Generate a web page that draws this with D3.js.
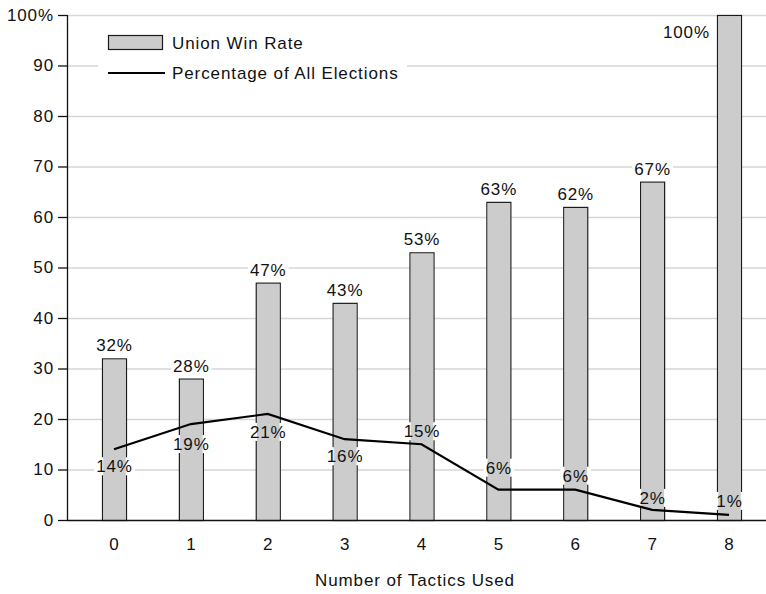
<!DOCTYPE html>
<html><head><meta charset="utf-8">
<script src="https://cdn.jsdelivr.net/npm/d3@7"></script>
<style>
html,body{margin:0;padding:0;background:#fff;}
svg{display:block;font-family:"Liberation Sans",Arial,Helvetica,sans-serif;}
svg text{letter-spacing:0.9px;}
</style></head>
<body>
<svg id="chart" width="766" height="594"></svg>
<script>
const categories = ["0","1","2","3","4","5","6","7","8"];
const winRate = [32,28,47,43,53,63,62,67,100];
const pctElections = [14,19,21,16,15,6,6,2,1];
const yTicks = [0,10,20,30,40,50,60,70,80,90,100];
const seriesNames = ["Union Win Rate","Percentage of All Elections"];
const xTitle = "Number of Tactics Used";

// layout (styling, not data)
const pctLabelDy = [17,20,18,17,-13,-22,-14,-12,-14];
const FS = 17;

const svg = d3.select("#chart");
const pLeft = 67, pRight = 766, pTop = 15, pBottom = 520;
const x = d3.scalePoint().domain(categories).range([114, 729]);
const y = d3.scaleLinear().domain([0,100]).range([pBottom, pTop]);
const barW = 24;

// gridlines
svg.append("g").selectAll("line").data(yTicks.filter(d=>d>0)).join("line")
  .attr("x1", pLeft).attr("x2", pRight)
  .attr("y1", d=>y(d)+0.5).attr("y2", d=>y(d)+0.5)
  .attr("stroke", "#d6d6d6").attr("stroke-width", 1.3);

// legend background
svg.append("rect").attr("x",98).attr("y",24).attr("width",309).attr("height",66).attr("fill","#fff");

// bar outlines
svg.append("g").selectAll("rect").data(winRate).join("rect")
  .attr("x", (d,i)=>x(categories[i]) - barW/2 + 0.5)
  .attr("y", d=>y(d)+0.5)
  .attr("width", barW)
  .attr("height", d=>pBottom - y(d))
  .attr("fill", "#cccccc").attr("stroke", "#1a1a1a").attr("stroke-width", 1.2);

function labelText(g, cx, cy, text, anchor){
  return g.append("text").attr("x", cx).attr("y", cy).attr("dy","0.35em")
    .attr("text-anchor", anchor).attr("font-size", FS).attr("fill","#111").text(text);
}

const barLabels = winRate.map((d,i)=>{
  if (i === winRate.length-1) return {x: x(categories[i]) - 19, y: y(d)+17, t: d+"%", a:"end"};
  return {x: x(categories[i]) + 0.5, y: y(d)-13, t: d+"%", a:"middle"};
});
const lineLabels = pctElections.map((d,i)=>({x: x(categories[i]) + 0.5, y: y(d)+pctLabelDy[i], t: d+"%", a:"middle"}));
const allLabels = barLabels.concat(lineLabels);

const bgG = svg.append("g");
const measureG = svg.append("g");
allLabels.forEach(l=>{
  const t = labelText(measureG, l.x, l.y, l.t, l.a);
  l.bb = t.node().getBBox();
});
measureG.remove();
bgG.selectAll("rect").data(allLabels).join("rect")
  .attr("x", d=>d.bb.x-2).attr("y", d=>d.y-9).attr("width", d=>d.bb.width+4).attr("height", 18)
  .attr("fill","#fff");

// bar interior fills (over backgrounds)
svg.append("g").selectAll("rect").data(winRate).join("rect")
  .attr("x", (d,i)=>x(categories[i]) - barW/2 + 1.2)
  .attr("y", d=>y(d)+1.2)
  .attr("width", barW - 1.4)
  .attr("height", d=>pBottom - y(d) - 1.2)
  .attr("fill", "#cccccc");

// axes
const yAxis = svg.append("g").attr("transform", `translate(${pLeft},0)`)
  .call(d3.axisLeft(y).tickValues(yTicks).tickSize(9).tickPadding(4)
    .tickFormat(d=> d===100 ? "100%" : d));
yAxis.select(".domain").attr("stroke","#111").attr("stroke-width",1.3).attr("d", `M0.5,${pTop}V${pBottom+0.5}`);
yAxis.selectAll(".tick line").attr("stroke","#111").attr("stroke-width",1.3);
yAxis.selectAll(".tick text").attr("font-size", FS).attr("fill","#111").attr("font-family","Liberation Sans, Arial, sans-serif");

const xAxis = svg.append("g").attr("transform", `translate(0,${pBottom})`)
  .call(d3.axisBottom(x).tickSize(0).tickPadding(18));
xAxis.select(".domain").attr("stroke","#111").attr("stroke-width",1.3).attr("d", `M${pLeft},0.5H${pRight}`);
xAxis.selectAll(".tick text").attr("font-size", FS).attr("fill","#111").attr("font-family","Liberation Sans, Arial, sans-serif");

// line
svg.append("path").datum(pctElections)
  .attr("d", d3.line().x((d,i)=>x(categories[i])).y(d=>y(d)))
  .attr("fill","none").attr("stroke","#000").attr("stroke-width",2.2);

const lg = svg.append("g");
allLabels.forEach(l=>labelText(lg, l.x, l.y, l.t, l.a));

// legend
svg.append("rect").attr("x",108.5).attr("y",35.5).attr("width",54).attr("height",14)
  .attr("fill","#cccccc").attr("stroke","#1a1a1a").attr("stroke-width",1.2);
svg.append("line").attr("x1",108).attr("x2",165).attr("y1",73).attr("y2",73)
  .attr("stroke","#000").attr("stroke-width",2.2);
svg.append("text").attr("x",172).attr("y",43).attr("dy","0.35em").attr("font-size",FS).attr("fill","#111").text(seriesNames[0]);
svg.append("text").attr("x",172).attr("y",73).attr("dy","0.35em").attr("font-size",FS).attr("fill","#111").text(seriesNames[1]);

svg.append("text").attr("x", 415).attr("y", 580).attr("dy","0.35em").attr("text-anchor","middle")
  .attr("font-size", FS).attr("fill","#111").text(xTitle);
</script>
</body></html>
